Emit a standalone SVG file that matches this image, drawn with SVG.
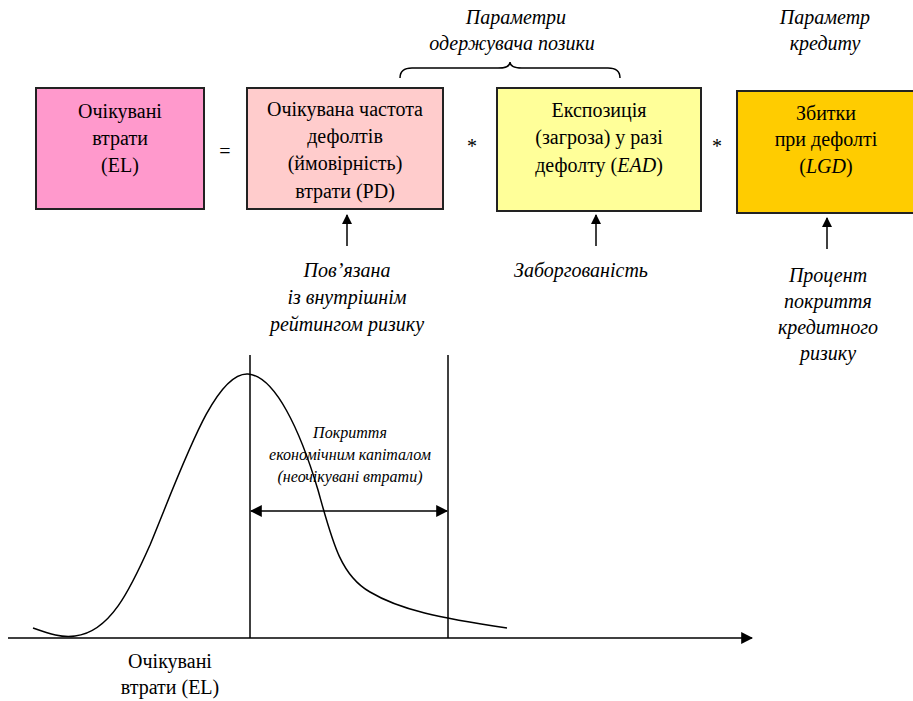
<svg xmlns="http://www.w3.org/2000/svg" width="913" height="701" viewBox="0 0 913 701">
<defs>
<marker id="ah" viewBox="0 0 10 10" refX="9" refY="5" markerWidth="10" markerHeight="10" markerUnits="userSpaceOnUse" orient="auto-start-reverse">
<path d="M0,0 L10,5 L0,10 z" fill="#000"/>
</marker>
<marker id="ah2" viewBox="0 0 10 10" refX="9" refY="5" markerWidth="12" markerHeight="12" markerUnits="userSpaceOnUse" orient="auto-start-reverse">
<path d="M0,0 L10,5 L0,10 z" fill="#000"/>
</marker>
</defs>
<rect width="913" height="701" fill="#fff"/>
<g id="el">
<rect stroke="#222" stroke-width="2" x="36" y="88" width="168" height="121" fill="#FF99CC"/>
<text font-family="Times New Roman, Liberation Serif, serif" font-size="20" text-anchor="middle" x="120" y="118">Очікувані</text>
<text font-family="Times New Roman, Liberation Serif, serif" font-size="20" text-anchor="middle" x="120" y="145">втрати</text>
<text font-family="Times New Roman, Liberation Serif, serif" font-size="20" text-anchor="middle" x="120" y="172">(EL)</text>
</g>
<text font-family="Times New Roman, Liberation Serif, serif" font-size="20" text-anchor="middle" x="225" y="158">=</text>

<g id="pd">
<rect stroke="#222" stroke-width="2" x="247" y="88" width="196" height="121" fill="#FFCCCC"/>
<text font-family="Times New Roman, Liberation Serif, serif" font-size="20" text-anchor="middle" x="345" y="116">Очікувана частота</text>
<text font-family="Times New Roman, Liberation Serif, serif" font-size="20" text-anchor="middle" x="345" y="143">дефолтів</text>
<text font-family="Times New Roman, Liberation Serif, serif" font-size="20" text-anchor="middle" x="345" y="170">(ймовірність)</text>
<text font-family="Times New Roman, Liberation Serif, serif" font-size="20" text-anchor="middle" x="345" y="198">втрати (PD)</text>
</g>
<text font-family="Times New Roman, Liberation Serif, serif" font-size="20" text-anchor="middle" x="472" y="153">*</text>

<g id="ead">
<rect stroke="#222" stroke-width="2" x="497" y="88" width="204" height="123" fill="#FFFF99"/>
<text font-family="Times New Roman, Liberation Serif, serif" font-size="20" text-anchor="middle" x="599" y="117">Експозиція</text>
<text font-family="Times New Roman, Liberation Serif, serif" font-size="20" text-anchor="middle" x="599" y="144">(загроза) у разі</text>
<text font-family="Times New Roman, Liberation Serif, serif" font-size="20" text-anchor="middle" x="599" y="172">дефолту (<tspan font-style="italic">EAD</tspan>)</text>
</g>
<text font-family="Times New Roman, Liberation Serif, serif" font-size="20" text-anchor="middle" x="717" y="153">*</text>

<g id="lgd">
<rect stroke="#222" stroke-width="2" x="737" y="91" width="180" height="122" fill="#FFCC00"/>
<text font-family="Times New Roman, Liberation Serif, serif" font-size="20" text-anchor="middle" x="826" y="120">Збитки</text>
<text font-family="Times New Roman, Liberation Serif, serif" font-size="20" text-anchor="middle" x="826" y="146">при дефолті</text>
<text font-family="Times New Roman, Liberation Serif, serif" font-size="20" text-anchor="middle" x="826" y="173">(<tspan font-style="italic">LGD</tspan>)</text>
</g>

<g id="labels">
<text font-family="Times New Roman, Liberation Serif, serif" font-size="20" font-style="italic" text-anchor="middle" x="516" y="24">Параметри</text>
<text font-family="Times New Roman, Liberation Serif, serif" font-size="20" font-style="italic" text-anchor="middle" x="512" y="50">одержувача позики</text>
<text font-family="Times New Roman, Liberation Serif, serif" font-size="20" font-style="italic" text-anchor="middle" x="825" y="24">Параметр</text>
<text font-family="Times New Roman, Liberation Serif, serif" font-size="20" font-style="italic" text-anchor="middle" x="825" y="50">кредиту</text>
<text font-family="Times New Roman, Liberation Serif, serif" font-size="20" font-style="italic" text-anchor="middle" x="347" y="277">Пов’язана</text>
<text font-family="Times New Roman, Liberation Serif, serif" font-size="20" font-style="italic" text-anchor="middle" x="347" y="304">із внутрішнім</text>
<text font-family="Times New Roman, Liberation Serif, serif" font-size="20" font-style="italic" text-anchor="middle" x="347" y="331">рейтингом ризику</text>
<text font-family="Times New Roman, Liberation Serif, serif" font-size="20" font-style="italic" text-anchor="middle" x="581" y="277">Заборгованість</text>
<text font-family="Times New Roman, Liberation Serif, serif" font-size="20" font-style="italic" text-anchor="middle" x="828" y="282">Процент</text>
<text font-family="Times New Roman, Liberation Serif, serif" font-size="20" font-style="italic" text-anchor="middle" x="828" y="308">покриття</text>
<text font-family="Times New Roman, Liberation Serif, serif" font-size="20" font-style="italic" text-anchor="middle" x="828" y="334">кредитного</text>
<text font-family="Times New Roman, Liberation Serif, serif" font-size="20" font-style="italic" text-anchor="middle" x="828" y="360">ризику</text>
</g>

<g id="connectors" stroke="#000" stroke-width="1.5" fill="none">
<path d="M400,78 Q400,68 412,68 L498,68 Q510,68 510,62 Q510,68 522,68 L608,68 Q620,68 620,78"/>
<line x1="347" y1="246" x2="347" y2="215" marker-end="url(#ah)"/>
<line x1="596" y1="246" x2="596" y2="215" marker-end="url(#ah)"/>
<line x1="827" y1="249" x2="827" y2="218" marker-end="url(#ah)"/>
</g>

<g id="chart">
<g stroke="#000" stroke-width="1.5" fill="none">
<line x1="8" y1="638" x2="752" y2="638" marker-end="url(#ah2)"/>
<line x1="250" y1="355" x2="250" y2="638"/>
<line x1="448" y1="355" x2="448" y2="638"/>
<path d="M33,628 C50,634 62,638 75,636 C110,632 130,590 150,545 C185,460 215,372 248,374 C275,376 300,430 318,490 C332,540 340,575 370,592 C400,610 440,618 507,628"/>
<line x1="251" y1="511" x2="447" y2="511" marker-start="url(#ah2)" marker-end="url(#ah2)"/>
</g>
<text font-family="Times New Roman, Liberation Serif, serif" font-size="16" font-style="italic" text-anchor="middle" x="350" y="438">Покриття</text>
<text font-family="Times New Roman, Liberation Serif, serif" font-size="16" font-style="italic" text-anchor="middle" x="350" y="460">економічним капіталом</text>
<text font-family="Times New Roman, Liberation Serif, serif" font-size="16" font-style="italic" text-anchor="middle" x="350" y="482">(неочікувані втрати)</text>
<text font-family="Times New Roman, Liberation Serif, serif" font-size="20" text-anchor="middle" x="170" y="668">Очікувані</text>
<text font-family="Times New Roman, Liberation Serif, serif" font-size="20" text-anchor="middle" x="170" y="694">втрати (EL)</text>
</g>
</svg>
